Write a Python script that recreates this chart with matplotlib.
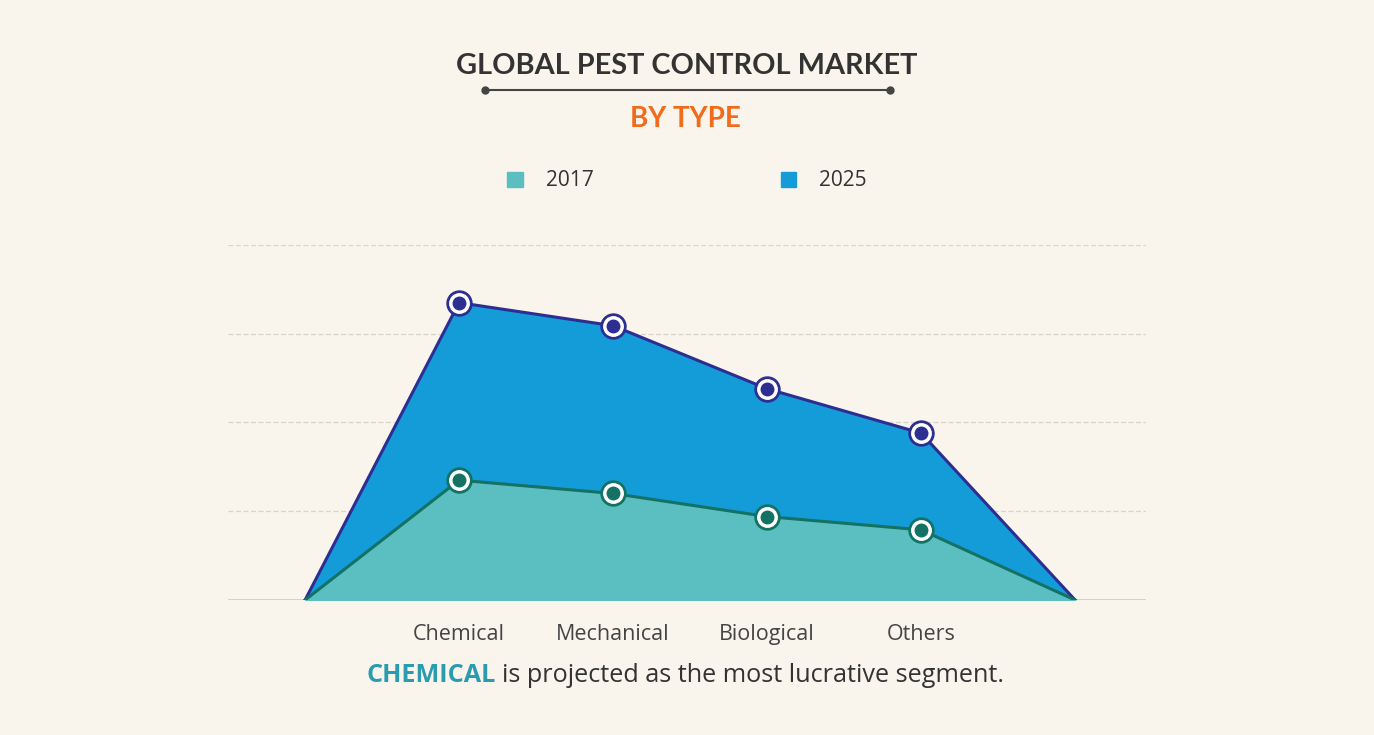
import matplotlib.pyplot as plt
from matplotlib.patches import Patch
from matplotlib.lines import Line2D

plt.rcParams['font.family'] = ['Open Sans', 'DejaVu Sans']

BG = '#f9f5ec'
categories = ['Chemical', 'Mechanical', 'Biological', 'Others']
# values in gridline units (chart has no value axis labels)
values_2017 = [1.35, 1.20, 0.94, 0.79]
values_2025 = [3.35, 3.09, 2.38, 1.88]

fill_2017, line_2017 = '#5bbfc2', '#137263'
fill_2025, line_2025 = '#149cd9', '#2d2e91'

# area starts and ends at zero on either side of the categories
xs = list(range(len(categories) + 2))
y17 = [0] + values_2017 + [0]
y25 = [0] + values_2025 + [0]
cat_x = xs[1:-1]

fig = plt.figure(figsize=(13.74, 7.35), dpi=100, facecolor=BG)
ax = fig.add_axes([0.166, 0.1837, 0.668, 0.483])
ax.set_facecolor(BG)

ax.fill_between(xs, y25, color=fill_2025, zorder=2)
ax.plot(xs, y25, color=line_2025, lw=2.2, zorder=3)
ax.fill_between(xs, y17, color=fill_2017, zorder=4)
ax.plot(xs, y17, color=line_2017, lw=2.2, zorder=5)

for vals, c in [(values_2025, line_2025), (values_2017, line_2017)]:
    ax.plot(cat_x, vals, 'o', ms=18, color=c, zorder=6)
    ax.plot(cat_x, vals, 'o', ms=14, color='white', zorder=7)
    ax.plot(cat_x, vals, 'o', ms=9, color=c, zorder=8)

ax.set_xlim(-0.5, 5.46)
ax.set_ylim(0, 4)
for g in [1, 2, 3, 4]:
    ax.axhline(g, color='#d8d4cc', lw=0.9, ls=(0, (4, 2)), zorder=1)
ax.axhline(0, color='#cfcbc3', lw=1.2, zorder=1)

ax.set_xticks(cat_x)
ax.set_xticklabels(categories, fontsize=15.5, color='#444444')
ax.tick_params(length=0, pad=17)
ax.set_yticks([])
for s in ax.spines.values():
    s.set_visible(False)

# titles
fig.text(0.5, 0.91, 'GLOBAL PEST CONTROL MARKET', ha='center', va='center',
         fontsize=20.8, fontweight='bold', color='#333333', family=['Lato', 'DejaVu Sans'])
fig.add_artist(Line2D([485 / 1374, 890 / 1374], [1 - 90 / 735] * 2, color='#444444', lw=1.5,
                      marker='o', ms=5, markevery=[0, 1]))
fig.text(0.4985, 0.838, 'BY TYPE', ha='center', va='center',
         fontsize=20, fontweight='bold', color='#f26a1b', family=['Lato', 'DejaVu Sans'])

handles = [Patch(color=fill_2017, label='2017'), Patch(color=fill_2025, label='2025')]
fig.legend(handles=handles, loc='center', bbox_to_anchor=(0.5, 1 - 181 / 735), ncol=2,
           frameon=False, fontsize=15, handlelength=0.75, handleheight=0.75,
           columnspacing=9.0, handletextpad=1.1, labelcolor='#333333')

# footer sentence
t1 = fig.text(367 / 1374, 1 - 676 / 735, 'CHEMICAL', ha='left', va='center',
              fontsize=18.2, fontweight='bold', color='#2a9cb0')
fig.canvas.draw()
bb = t1.get_window_extent()
fig.text(bb.x1 / fig.bbox.width + 0.004, 1 - 676 / 735, 'is projected as the most lucrative segment.',
         ha='left', va='center', fontsize=18.2, color='#333333')

fig.savefig('out.png', dpi=100, facecolor=BG)
